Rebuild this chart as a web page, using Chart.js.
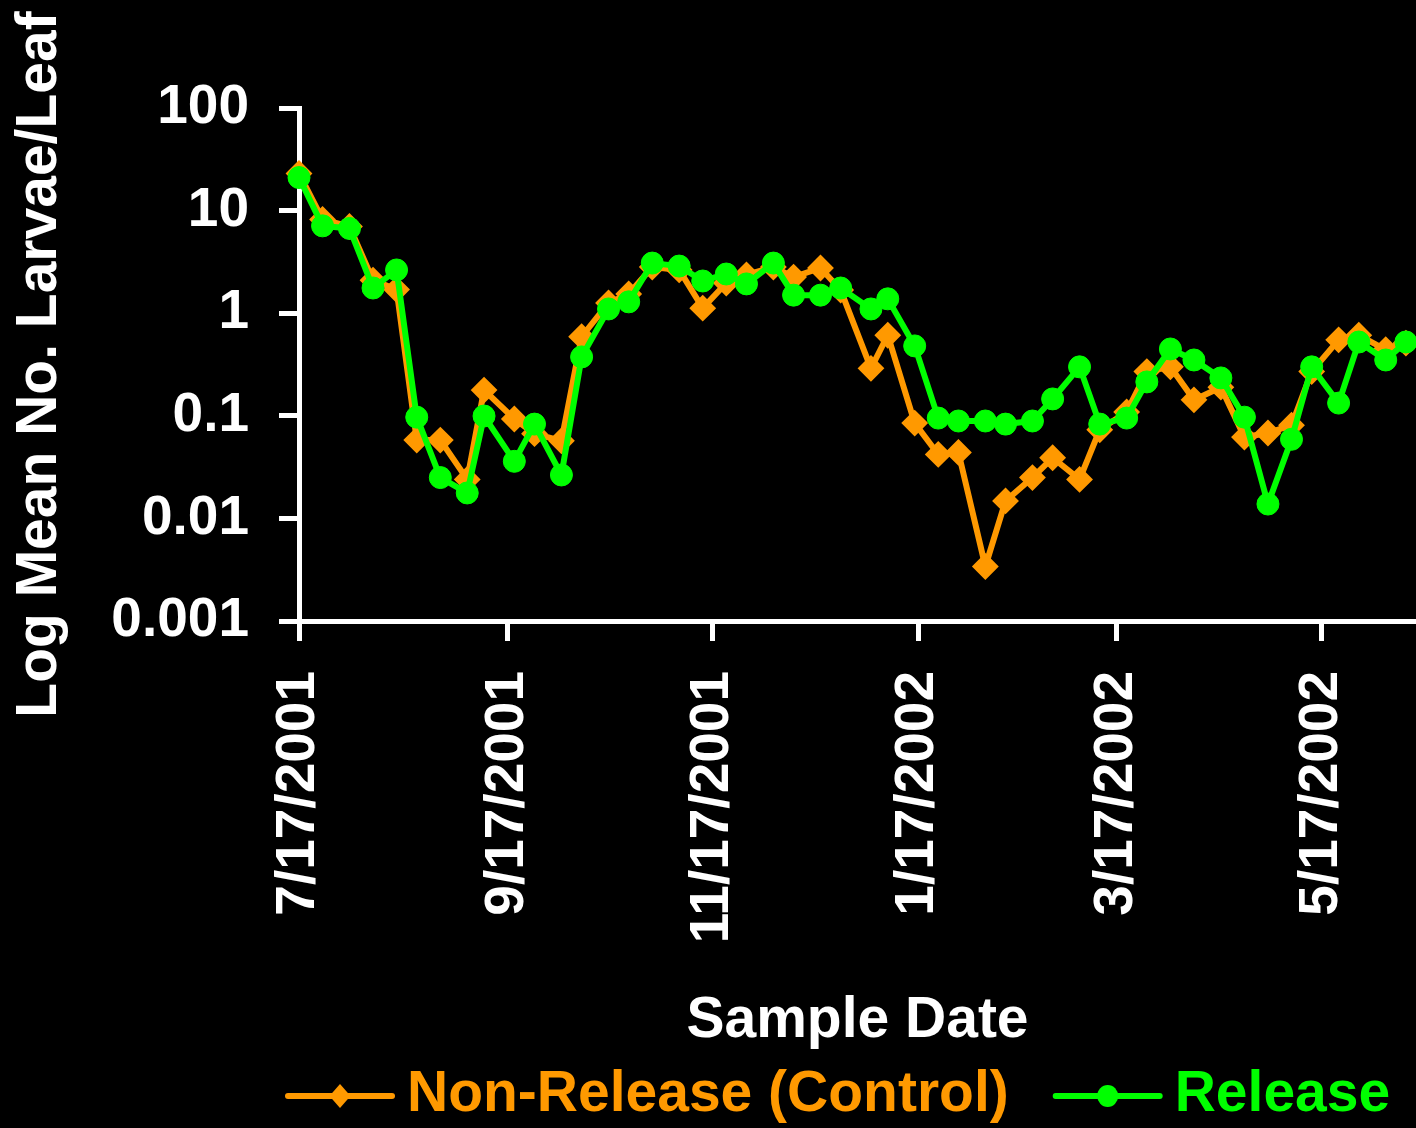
<!DOCTYPE html>
<html>
<head>
<meta charset="utf-8">
<title>Log Mean No. Larvae/Leaf by Sample Date</title>
<script src="https://cdn.jsdelivr.net/npm/chart.js@4.4.1/dist/chart.umd.min.js"></script>
<style>
  html, body { margin: 0; padding: 0; background: #000; }
  #wrap { width: 1416px; height: 1128px; position: relative; }
</style>
</head>
<body>
<div id="wrap"><canvas id="larvae" width="1416" height="1128"></canvas></div>
<script>
// Weekly sample dates
const sampleDates = [
  '7/17/2001', '7/24/2001', '8/1/2001', '8/8/2001', '8/15/2001', '8/21/2001',
  '8/28/2001', '9/5/2001', '9/10/2001', '9/19/2001', '9/25/2001', '10/3/2001',
  '10/9/2001', '10/17/2001', '10/23/2001', '10/30/2001', '11/7/2001', '11/14/2001',
  '11/21/2001', '11/27/2001', '12/5/2001', '12/11/2001', '12/19/2001', '12/25/2001',
  '1/3/2002', '1/8/2002', '1/16/2002', '1/23/2002', '1/29/2002', '2/6/2002',
  '2/12/2002', '2/20/2002', '2/26/2002', '3/6/2002', '3/12/2002', '3/20/2002',
  '3/26/2002', '4/2/2002', '4/9/2002', '4/17/2002', '4/24/2002', '5/1/2002',
  '5/8/2002', '5/14/2002', '5/22/2002', '5/28/2002', '6/5/2002', '6/11/2002'
];

// Mean larvae per leaf, non-release (control) plots
const controlLarvae = [
  23, 8.2, 7.0, 2.1, 1.7, 0.058, 0.058, 0.024, 0.178, 0.093, 0.067, 0.057,
  0.59, 1.26, 1.54, 2.82, 2.64, 1.12, 1.97, 2.36, 2.82, 2.25, 2.76, 1.68,
  0.29, 0.61, 0.085, 0.042, 0.044, 0.0034, 0.0148, 0.025, 0.039, 0.024, 0.073, 0.109,
  0.27, 0.30, 0.143, 0.19, 0.062, 0.068, 0.081, 0.27, 0.55, 0.61, 0.44, 0.51
];

// Mean larvae per leaf, release plots
const releaseLarvae = [
  21, 7.1, 6.7, 1.76, 2.64, 0.097, 0.025, 0.0177, 0.0995, 0.036, 0.083, 0.0265,
  0.375, 1.10, 1.29, 3.08, 2.88, 2.06, 2.41, 1.93, 3.08, 1.50, 1.50, 1.76,
  1.10, 1.38, 0.48, 0.095, 0.089, 0.089, 0.083, 0.089, 0.146, 0.30, 0.083, 0.095,
  0.214, 0.448, 0.35, 0.234, 0.097, 0.0138, 0.059, 0.30, 0.133, 0.524, 0.35, 0.524
];

const seriesNames = ['Non-Release (Control)', 'Release'];

// Axis ticks
const dateTicks = ['7/17/2001', '9/17/2001', '11/17/2001', '1/17/2002', '3/17/2002', '5/17/2002'];
const axisEndDate = '6/14/2002';
const logTicks = [0.001, 0.01, 0.1, 1, 10, 100];
const logTickLabels = ['0.001', '0.01', '0.1', '1', '10', '100'];

const ORANGE = '#FF9900';
const GREEN = '#00FF00';
const WHITE = '#FFFFFF';
const FONT = '"Liberation Sans", Arial, Helvetica, sans-serif';

// Dates are placed on a linear day axis counted from the first sample
const MS_PER_DAY = 86400000;
function dayNumber(s) {
  const [m, d, y] = s.split('/').map(Number);
  return Date.UTC(y, m - 1, d) / MS_PER_DAY;
}
const originDay = dayNumber(sampleDates[0]);
const toDay = s => dayNumber(s) - originDay;

const tickDays = dateTicks.map(toDay);
const tickLabelByDay = new Map(tickDays.map((d, i) => [d, dateTicks[i]]));
const logLabelByValue = new Map(logTicks.map((v, i) => [v, logTickLabels[i]]));

const toPoints = values => sampleDates.map((s, i) => ({ x: toDay(s), y: values[i] }));

// Line-plus-marker key drawn under the axis title
const seriesKey = {
  id: 'seriesKey',
  afterDraw(chart) {
    const ctx = chart.ctx;
    const lineLen = 104, textGap = 15, itemGap = 47;
    const lineY = 1096, textY = 1095;
    let x = 288;
    ctx.save();
    ctx.font = 'bold 57px ' + FONT;
    ctx.textBaseline = 'middle';
    ctx.textAlign = 'left';
    chart.data.datasets.forEach(ds => {
      const c = ds.borderColor;
      ctx.strokeStyle = c;
      ctx.fillStyle = c;
      ctx.lineWidth = 6;
      ctx.lineCap = 'round';
      ctx.beginPath();
      ctx.moveTo(x, lineY);
      ctx.lineTo(x + lineLen, lineY);
      ctx.stroke();
      const cx = x + lineLen / 2;
      ctx.beginPath();
      if (ds.pointStyle === 'rectRot') {
        ctx.moveTo(cx, lineY - 12);
        ctx.lineTo(cx + 10.5, lineY);
        ctx.lineTo(cx, lineY + 12);
        ctx.lineTo(cx - 10.5, lineY);
        ctx.closePath();
      } else {
        ctx.ellipse(cx, lineY, 10.5, 11, 0, 0, Math.PI * 2);
      }
      ctx.fill();
      const tx = x + lineLen + textGap;
      ctx.fillText(ds.label, tx, textY);
      x = tx + ctx.measureText(ds.label).width + itemGap;
    });
    ctx.restore();
  }
};

const ctx = document.getElementById('larvae').getContext('2d');
new Chart(ctx, {
  type: 'line',
  data: {
    datasets: [
      {
        label: seriesNames[0],
        data: toPoints(controlLarvae),
        borderColor: ORANGE,
        backgroundColor: ORANGE,
        borderWidth: 6,
        pointStyle: 'rectRot',
        pointRadius: 12,
        pointBorderWidth: 2,
        pointBackgroundColor: ORANGE,
        pointBorderColor: ORANGE,
        tension: 0,
        clip: false,
        order: 1
      },
      {
        label: seriesNames[1],
        data: toPoints(releaseLarvae),
        borderColor: GREEN,
        backgroundColor: GREEN,
        borderWidth: 6,
        pointStyle: 'circle',
        pointRadius: 11,
        pointBorderWidth: 1,
        pointBackgroundColor: GREEN,
        pointBorderColor: GREEN,
        tension: 0,
        clip: false,
        order: 0
      }
    ]
  },
  options: {
    responsive: false,
    animation: false,
    devicePixelRatio: 1,
    layout: { autoPadding: false, padding: { top: 108, bottom: 78, left: 0, right: 0 } },
    plugins: {
      legend: { display: false },
      tooltip: { enabled: false }
    },
    scales: {
      x: {
        type: 'linear',
        min: 0,
        max: toDay(axisEndDate),
        afterFit(scale) {
          scale.height = 429;
          scale.paddingLeft = 0;
          scale.paddingRight = 0;
        },
        afterBuildTicks(scale) { scale.ticks = tickDays.map(v => ({ value: v })); },
        ticks: {
          autoSkip: false,
          minRotation: 90,
          maxRotation: 90,
          padding: 30,
          color: WHITE,
          font: { family: FONT, size: 55, weight: 'bold', lineHeight: 1 },
          callback: v => tickLabelByDay.get(v) || ''
        },
        grid: {
          display: true,
          drawOnChartArea: false,
          drawTicks: true,
          tickLength: 20,
          tickWidth: 5,
          tickColor: WHITE,
          color: WHITE,
          lineWidth: 5
        },
        border: { display: true, color: WHITE, width: 5 },
        title: {
          display: true,
          text: 'Sample Date',
          color: WHITE,
          font: { family: FONT, size: 57, weight: 'bold', lineHeight: 1 },
          padding: { top: 0, bottom: 0 }
        }
      },
      y: {
        type: 'logarithmic',
        min: 0.001,
        max: 100,
        afterFit(scale) {
          scale.width = 299;
          scale.paddingTop = 0;
          scale.paddingBottom = 0;
        },
        afterBuildTicks(scale) { scale.ticks = logTicks.map(v => ({ value: v, major: true })); },
        ticks: {
          autoSkip: false,
          padding: 30,
          color: WHITE,
          font: { family: FONT, size: 55, weight: 'bold', lineHeight: 1 },
          callback: v => logLabelByValue.get(v) || ''
        },
        grid: {
          display: true,
          drawOnChartArea: false,
          drawTicks: true,
          tickLength: 20,
          tickWidth: 5,
          tickColor: WHITE,
          color: WHITE,
          lineWidth: 5
        },
        border: { display: true, color: WHITE, width: 5 },
        title: {
          display: true,
          text: 'Log Mean No. Larvae/Leaf',
          color: WHITE,
          font: { family: FONT, size: 57, weight: 'bold', lineHeight: 1 },
          padding: { top: 12, bottom: 0 }
        }
      }
    }
  },
  plugins: [seriesKey]
});
</script>
</body>
</html>
